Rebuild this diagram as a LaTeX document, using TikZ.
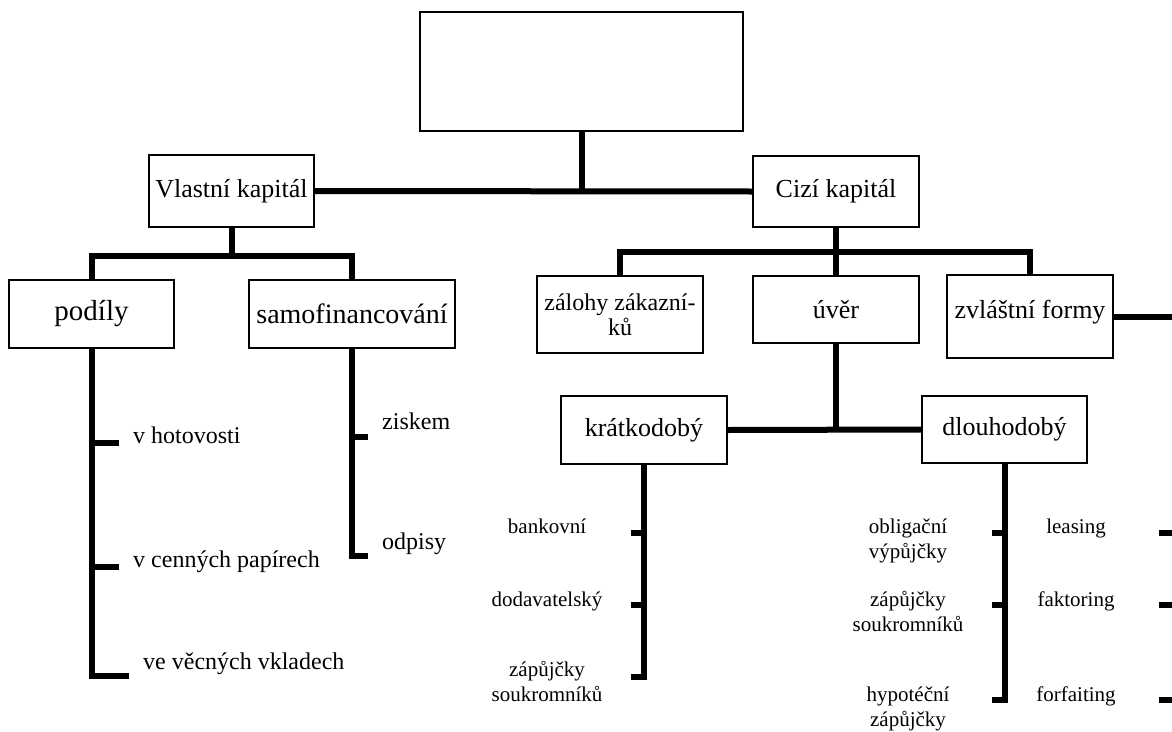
\documentclass[tikz,border=0pt]{standalone}
\usepackage{fontspec}
\setmainfont{Liberation Serif}

\tikzstyle{box}=[draw=black,line width=1.2pt,rectangle,inner sep=0pt,align=center,font=\fontsize{26}{30}\selectfont]
\tikzstyle{thickline}=[line width=6pt]
\tikzstyle{leftitem}=[inner sep=0pt,anchor=base west,font=\fontsize{24}{28}\selectfont]
\tikzstyle{subitem}=[inner sep=0pt,anchor=base,align=center,font=\fontsize{21}{25}\selectfont]

\begin{document}
\begin{tikzpicture}[x=1pt,y=-1pt]
% \draw [help lines,step=100] (0,0) grid (1172,731);
\useasboundingbox (0,0) rectangle (1172,731);

\node[box,minimum width=323pt,minimum height=119pt] (root) at (581.5,71.5) {};

% children of the root
\node[box,minimum width=165pt,minimum height=72pt] (vlastni) at (231.5,191) {Vlastní kapitál};
\node[box,minimum width=166pt,minimum height=71pt] (cizi) at (836,191.5) {Cizí kapitál};

% children of vlastni
\node[box,minimum width=165pt,minimum height=68pt,font=\fontsize{29}{32}\selectfont] (podily) at (91.5,314) {podíly};
\node[box,minimum width=206pt,minimum height=68pt,font=\fontsize{28}{32}\selectfont] (samofin) at (352,314) {samofinancování};

% children of cizi
\node[box,minimum width=166pt,minimum height=77pt,font=\fontsize{24}{25}\selectfont] (zalohy) at (620,314.5) {zálohy zákazní-\\ků};
\node[box,minimum width=166pt,minimum height=67pt] (uver) at (836,309.5) {úvěr};
\node[box,minimum width=166pt,minimum height=83pt,text depth=14pt] (zvlastni) at (1030,316.5) {zvláštní formy};

% children of uver
\node[box,minimum width=166pt,minimum height=68pt] (kratko) at (644,430) {krátkodobý};
\node[box,minimum width=165pt,minimum height=67pt] (dlouho) at (1004.5,429.5) {dlouhodobý};

% forks
\coordinate (top-fork) at (root.south |- vlastni.east);
\coordinate (vl-fork) at (231.5,256);
\coordinate (ci-fork) at (836,252);
\coordinate (uv-fork) at (836,430);
\coordinate (edge-zvl) at (1172,316.5);

% leaves of podily
\node[leftitem] (leaf-hot) at (133,443) {v hotovosti};
\node[leftitem] (leaf-cen) at (133,567) {v cenných papírech};
\node[leftitem] (leaf-vec) at (143,669) {ve věcných vkladech};
\coordinate (tick-hot) at (119,443);
\coordinate (tick-cen) at (119,567);
\coordinate (tick-vec) at (129,676);

% leaves of samofin
\node[leftitem] (leaf-zisk) at (382,429) {ziskem};
\node[leftitem] (leaf-odp) at (382,549) {odpisy};
\coordinate (tick-zisk) at (368,437);
\coordinate (tick-odp) at (368,556);

% leaves of kratko
\node[subitem] (leaf-bank) at (547,533) {bankovní};
\node[subitem] (leaf-dod) at (547,606) {dodavatelský};
\node[subitem] (leaf-zap1) at (547,701) {zápůjčky\\soukromníků};
\coordinate (tick-bank) at (631,533);
\coordinate (tick-dod) at (631,605);
\coordinate (tick-zap1) at (631,677);

% leaves of dlouho
\node[subitem] (leaf-obl) at (908,558) {obligační\\výpůjčky};
\node[subitem] (leaf-zap2) at (908,631) {zápůjčky\\soukromníků};
\node[subitem] (leaf-hyp) at (908,726) {hypotéční\\zápůjčky};
\coordinate (tick-obl) at (992,533);
\coordinate (tick-zap2) at (992,605);
\coordinate (tick-hyp) at (992,700);

% leaves of zvlastni
\node[subitem] (leaf-leas) at (1076,533) {leasing};
\node[subitem] (leaf-fakt) at (1076,606) {faktoring};
\node[subitem] (leaf-forf) at (1076,701) {forfaiting};
\coordinate (tick-leas) at (1159,533);
\coordinate (tick-fakt) at (1159,605);
\coordinate (tick-forf) at (1159,700);

% edges from root
\draw[thickline] (vlastni.east) -- (cizi.west);
\draw[thickline] (root.south) -- (top-fork);

% edges from vlastni
\draw[thickline] (vlastni.south) -- (vl-fork);
\draw[thickline] (podily.north) |- (vl-fork) -| (samofin.north);

% edges from cizi
\draw[thickline] (cizi.south) -- (uver.north);
\draw[thickline] (zalohy.north) |- (ci-fork) -| (zvlastni.north);
\draw[thickline] (zvlastni.east) -- (edge-zvl);

% edges from uver
\draw[thickline] (uver.south) -- (uv-fork);
\draw[thickline] (kratko.east) -- (dlouho.west);

% brackets of podily and samofin
\draw[thickline] (podily.south) |- (tick-vec);
\draw[thickline] (podily.south |- tick-hot) -- (tick-hot);
\draw[thickline] (podily.south |- tick-cen) -- (tick-cen);
\draw[thickline] (samofin.south) |- (tick-odp);
\draw[thickline] (samofin.south |- tick-zisk) -- (tick-zisk);

% brackets of kratko and dlouho
\draw[thickline] (kratko.south) |- (tick-zap1);
\draw[thickline] (kratko.south |- tick-bank) -- (tick-bank);
\draw[thickline] (kratko.south |- tick-dod) -- (tick-dod);
\draw[thickline] (dlouho.south) |- (tick-hyp);
\draw[thickline] (dlouho.south |- tick-obl) -- (tick-obl);
\draw[thickline] (dlouho.south |- tick-zap2) -- (tick-zap2);

% ticks of zvlastni at the right edge
\draw[thickline] (tick-leas) -- (tick-leas -| edge-zvl);
\draw[thickline] (tick-fakt) -- (tick-fakt -| edge-zvl);
\draw[thickline] (tick-forf) -- (tick-forf -| edge-zvl);

\end{tikzpicture}
\end{document}
